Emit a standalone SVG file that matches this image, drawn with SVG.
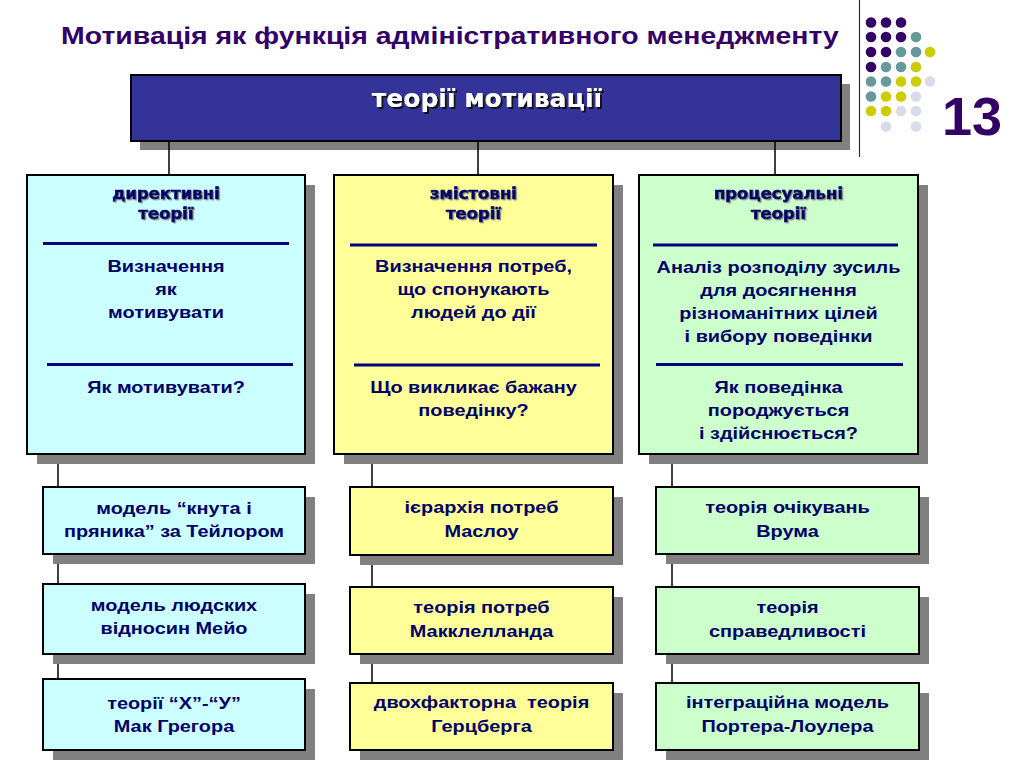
<svg xmlns="http://www.w3.org/2000/svg" width="1024" height="768" viewBox="0 0 1024 768">
<defs>
<filter id="ts" x="-10%" y="-30%" width="120%" height="160%">
<feDropShadow dx="1.2" dy="1.2" stdDeviation="0.4" flood-color="#888" flood-opacity="0.9"/>
</filter>
<filter id="ts2" x="-10%" y="-30%" width="120%" height="160%">
<feDropShadow dx="2" dy="2" stdDeviation="0.6" flood-color="#111" flood-opacity="0.9"/>
</filter>
<style>
.sh{fill:#808080}
.bx{stroke:#000;stroke-width:2}
.c1{fill:#CCFFFF}
.c2{fill:#FFFF99}
.c3{fill:#CCFFCC}
.t{font-family:"Liberation Sans",Arial,sans-serif;font-weight:bold;font-size:16.3px;fill:#000066;text-anchor:middle}
.h{font-family:"DejaVu Sans",Verdana,sans-serif;font-weight:bold;font-size:16.5px;fill:#000066;stroke:#000066;stroke-width:0.7;text-anchor:middle;filter:url(#ts)}
.dv{stroke:#000080;stroke-width:3}
.cn{stroke:#000;stroke-width:1.5;fill:none}
.dp{fill:#330066}
.dt{fill:#669999}
.dy{fill:#CCCC00}
.dl{fill:#DADAEA}
</style>
</defs>
<rect width="1024" height="768" fill="#fff"/>

<g id="title">
<text transform="translate(450 0) scale(1.236 1)" y="44" style="font-family:'Liberation Sans',Arial,sans-serif;font-weight:bold;font-size:23px;fill:#330066;text-anchor:middle">Мотивація як функція адміністративного менеджменту</text>
</g>

<g id="decor">
<line x1="859.5" y1="0" x2="859.5" y2="157" stroke="#333" stroke-width="1.2"/>
<circle class="dp" cx="871" cy="22.5" r="5.3"/><circle class="dp" cx="886" cy="22.5" r="5.3"/><circle class="dp" cx="901" cy="22.5" r="5.3"/>
<circle class="dp" cx="871" cy="37" r="5.3"/><circle class="dp" cx="886" cy="37" r="5.3"/><circle class="dp" cx="901" cy="37" r="5.3"/><circle class="dt" cx="916" cy="37" r="5.3"/>
<circle class="dp" cx="871" cy="52" r="5.3"/><circle class="dp" cx="886" cy="52" r="5.3"/><circle class="dt" cx="901" cy="52" r="5.3"/><circle class="dt" cx="916" cy="52" r="5.3"/><circle class="dy" cx="930" cy="52" r="5.3"/>
<circle class="dp" cx="871" cy="67" r="5.3"/><circle class="dt" cx="886" cy="67" r="5.3"/><circle class="dt" cx="901" cy="67" r="5.3"/><circle class="dy" cx="916" cy="67" r="5.3"/>
<circle class="dt" cx="871" cy="81.5" r="5.3"/><circle class="dt" cx="886" cy="81.5" r="5.3"/><circle class="dy" cx="901" cy="81.5" r="5.3"/><circle class="dy" cx="916" cy="81.5" r="5.3"/><circle class="dl" cx="930" cy="81.5" r="5.3"/>
<circle class="dt" cx="871" cy="96.5" r="5.3"/><circle class="dy" cx="886" cy="96.5" r="5.3"/><circle class="dy" cx="901" cy="96.5" r="5.3"/><circle class="dl" cx="916" cy="96.5" r="5.3"/>
<circle class="dy" cx="871" cy="111" r="5.3"/><circle class="dy" cx="886" cy="111" r="5.3"/><circle class="dl" cx="901" cy="111" r="5.3"/><circle class="dl" cx="916" cy="111" r="5.3"/>
<circle class="dl" cx="886" cy="126.5" r="5.3"/><circle class="dl" cx="916" cy="126.5" r="5.3"/>
<text x="942" y="135" style="font-family:'Liberation Sans',Arial,sans-serif;font-weight:bold;font-size:54px;fill:#330066">13</text>
</g>

<g id="root">
<rect class="sh" x="140" y="84" width="710" height="66"/>
<rect class="bx" x="131" y="75" width="710" height="66" fill="#333399"/>
<text x="487" y="107" style="font-family:'DejaVu Sans',Verdana,sans-serif;font-weight:bold;font-size:25px;fill:#fff;text-anchor:middle;filter:url(#ts2)">теорії мотивації</text>
</g>

<g id="connectors">
<line class="cn" x1="169" y1="141" x2="169" y2="175"/>
<line class="cn" x1="478" y1="141" x2="478" y2="175"/>
<line class="cn" x1="775" y1="141" x2="775" y2="175"/>
<line class="cn" x1="58" y1="454" x2="58" y2="679"/>
<line class="cn" x1="372" y1="454" x2="372" y2="683"/>
<line class="cn" x1="672" y1="454" x2="672" y2="683"/>
</g>

<g id="directive">
<rect class="sh" x="37" y="185" width="278" height="279"/>
<rect class="bx c1" x="27" y="175" width="278" height="279"/>
<text class="h" x="166" y="199">директивні</text>
<text class="h" x="166" y="219">теорії</text>
<line class="dv" x1="43" y1="243.5" x2="289" y2="243.5"/>
<text class="t" transform="translate(166 0) scale(1.22 1)" y="272">Визначення</text>
<text class="t" transform="translate(166 0) scale(1.22 1)" y="295">як</text>
<text class="t" transform="translate(166 0) scale(1.22 1)" y="318">мотивувати</text>
<line class="dv" x1="47" y1="364.5" x2="293" y2="364.5"/>
<text class="t" transform="translate(166 0) scale(1.22 1)" y="393">Як мотивувати?</text>
</g>

<g id="content">
<rect class="sh" x="344" y="185" width="279" height="279"/>
<rect class="bx c2" x="334" y="175" width="279" height="279"/>
<text class="h" x="473.5" y="199">змістовні</text>
<text class="h" x="473.5" y="219">теорії</text>
<line class="dv" x1="350" y1="245" x2="597" y2="245"/>
<text class="t" transform="translate(473.5 0) scale(1.22 1)" y="272">Визначення потреб,</text>
<text class="t" transform="translate(473.5 0) scale(1.22 1)" y="295">що спонукають</text>
<text class="t" transform="translate(473.5 0) scale(1.22 1)" y="318">людей до дії</text>
<line class="dv" x1="354" y1="365" x2="600" y2="365"/>
<text class="t" transform="translate(473.5 0) scale(1.22 1)" y="393">Що викликає бажану</text>
<text class="t" transform="translate(473.5 0) scale(1.22 1)" y="416">поведінку?</text>
</g>

<g id="process">
<rect class="sh" x="649" y="185" width="279" height="279"/>
<rect class="bx c3" x="639" y="175" width="279" height="279"/>
<text class="h" x="778.5" y="199">процесуальні</text>
<text class="h" x="778.5" y="219">теорії</text>
<line class="dv" x1="653" y1="245" x2="898" y2="245"/>
<text class="t" transform="translate(778.5 0) scale(1.22 1)" y="273">Аналіз розподілу зусиль</text>
<text class="t" transform="translate(778.5 0) scale(1.22 1)" y="296">для досягнення</text>
<text class="t" transform="translate(778.5 0) scale(1.22 1)" y="319">різноманітних цілей</text>
<text class="t" transform="translate(778.5 0) scale(1.22 1)" y="342">і вибору поведінки</text>
<line class="dv" x1="656" y1="364.5" x2="903" y2="364.5"/>
<text class="t" transform="translate(778.5 0) scale(1.22 1)" y="393">Як поведінка</text>
<text class="t" transform="translate(778.5 0) scale(1.22 1)" y="416">породжується</text>
<text class="t" transform="translate(778.5 0) scale(1.22 1)" y="439">і здійснюється?</text>
</g>

<g id="taylor">
<rect class="sh" x="53" y="497" width="262" height="67"/>
<rect class="bx c1" x="43" y="487" width="262" height="67"/>
<text class="t" transform="translate(174 0) scale(1.22 1)" y="514">модель “кнута і</text>
<text class="t" transform="translate(174 0) scale(1.22 1)" y="537">пряника” за Тейлором</text>
</g>
<g id="mayo">
<rect class="sh" x="53" y="594" width="262" height="70"/>
<rect class="bx c1" x="43" y="584" width="262" height="70"/>
<text class="t" transform="translate(174 0) scale(1.22 1)" y="611">модель людских</text>
<text class="t" transform="translate(174 0) scale(1.22 1)" y="634">відносин Мейо</text>
</g>
<g id="mcgregor">
<rect class="sh" x="53" y="689" width="262" height="71"/>
<rect class="bx c1" x="43" y="679" width="262" height="71"/>
<text class="t" transform="translate(174 0) scale(1.22 1)" y="709">теорії “Х”-“У”</text>
<text class="t" transform="translate(174 0) scale(1.22 1)" y="732">Мак Грегора</text>
</g>

<g id="maslow">
<rect class="sh" x="360" y="497" width="263" height="68"/>
<rect class="bx c2" x="350" y="487" width="263" height="68"/>
<text class="t" transform="translate(481.5 0) scale(1.22 1)" y="513">ієрархія потреб</text>
<text class="t" transform="translate(481.5 0) scale(1.22 1)" y="537">Маслоу</text>
</g>
<g id="mcclelland">
<rect class="sh" x="360" y="597" width="263" height="67"/>
<rect class="bx c2" x="350" y="587" width="263" height="67"/>
<text class="t" transform="translate(481.5 0) scale(1.22 1)" y="613">теорія потреб</text>
<text class="t" transform="translate(481.5 0) scale(1.22 1)" y="637">Макклелланда</text>
</g>
<g id="herzberg">
<rect class="sh" x="360" y="693" width="263" height="67"/>
<rect class="bx c2" x="350" y="683" width="263" height="67"/>
<text class="t" transform="translate(481.5 0) scale(1.22 1)" y="708" style="white-space:pre">двохфакторна  теорія</text>
<text class="t" transform="translate(481.5 0) scale(1.22 1)" y="732">Герцберга</text>
</g>

<g id="vroom">
<rect class="sh" x="666" y="497" width="263" height="67"/>
<rect class="bx c3" x="656" y="487" width="263" height="67"/>
<text class="t" transform="translate(787.5 0) scale(1.22 1)" y="513">теорія очікувань</text>
<text class="t" transform="translate(787.5 0) scale(1.22 1)" y="537">Врума</text>
</g>
<g id="equity">
<rect class="sh" x="666" y="597" width="263" height="67"/>
<rect class="bx c3" x="656" y="587" width="263" height="67"/>
<text class="t" transform="translate(787.5 0) scale(1.22 1)" y="613">теорія</text>
<text class="t" transform="translate(787.5 0) scale(1.22 1)" y="637">справедливості</text>
</g>
<g id="porter-lawler">
<rect class="sh" x="666" y="693" width="263" height="67"/>
<rect class="bx c3" x="656" y="683" width="263" height="67"/>
<text class="t" transform="translate(787.5 0) scale(1.22 1)" y="708">інтеграційна модель</text>
<text class="t" transform="translate(787.5 0) scale(1.22 1)" y="732">Портера-Лоулера</text>
</g>
</svg>
